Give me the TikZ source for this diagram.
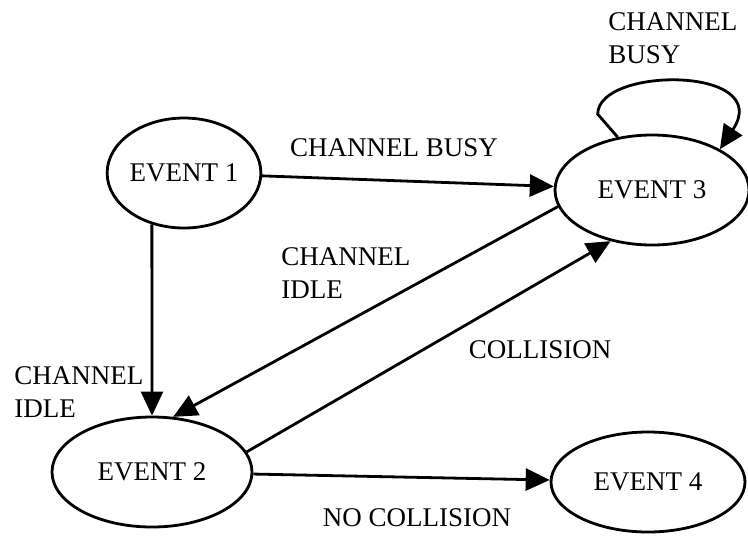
\documentclass[tikz,border=0pt]{standalone}
\usepackage{fontspec}
\setmainfont{Liberation Serif}
\usetikzlibrary{shapes.geometric,arrows.meta}
\begin{document}
\begin{tikzpicture}[x=0.5pt, y=-0.5pt, line width=1.4pt, >={Triangle[length=12pt,width=11pt]},
  event node/.style={ellipse, draw=black, line width=1.4pt, inner sep=0pt, minimum height=55pt},
  label node/.style={align=left, inner sep=0pt}]
\useasboundingbox (0,0) rectangle (748,536);
\begin{scope}[every node/.style={font=\fontsize{13.5}{16.5}\selectfont}]
\node[event node, minimum width=72pt] (e1) at (184,173) {EVENT 1};
\node[event node, minimum width=100pt] (e2) at (152,472) {EVENT 2};
\node[event node, minimum width=97pt] (e3) at (652,190) {EVENT 3};
\node[event node, minimum width=97pt, minimum height=50pt] (e4) at (648,482) {EVENT 4};
\node[label node] (l13) at (394,148) {CHANNEL BUSY};
\node[label node, anchor=west] (l12) at (13,392) {CHANNEL\\IDLE};
\node[label node, anchor=west] (l32) at (280,273) {CHANNEL\\IDLE};
\node[label node] (l23) at (540,350) {COLLISION};
\node[label node] (l24) at (417,518) {NO COLLISION};
\node[label node, anchor=west] (l33) at (607,38) {CHANNEL\\BUSY};
\end{scope}
\begin{scope}[every edge/.style={draw=black, line width=1.4pt, ->}]
\draw (e1) edge (e3);
\draw (e1.238) edge (e2.90);
\draw (e3.190) edge (e2.69);
\draw (e2.12) edge (e3.231);
\draw (e2) edge (e4);
\end{scope}
\draw[->] (e3.123) -- ++(-20,-23) .. controls (598,66) and (775,66) .. (e3.31);
\end{tikzpicture}
\end{document}
